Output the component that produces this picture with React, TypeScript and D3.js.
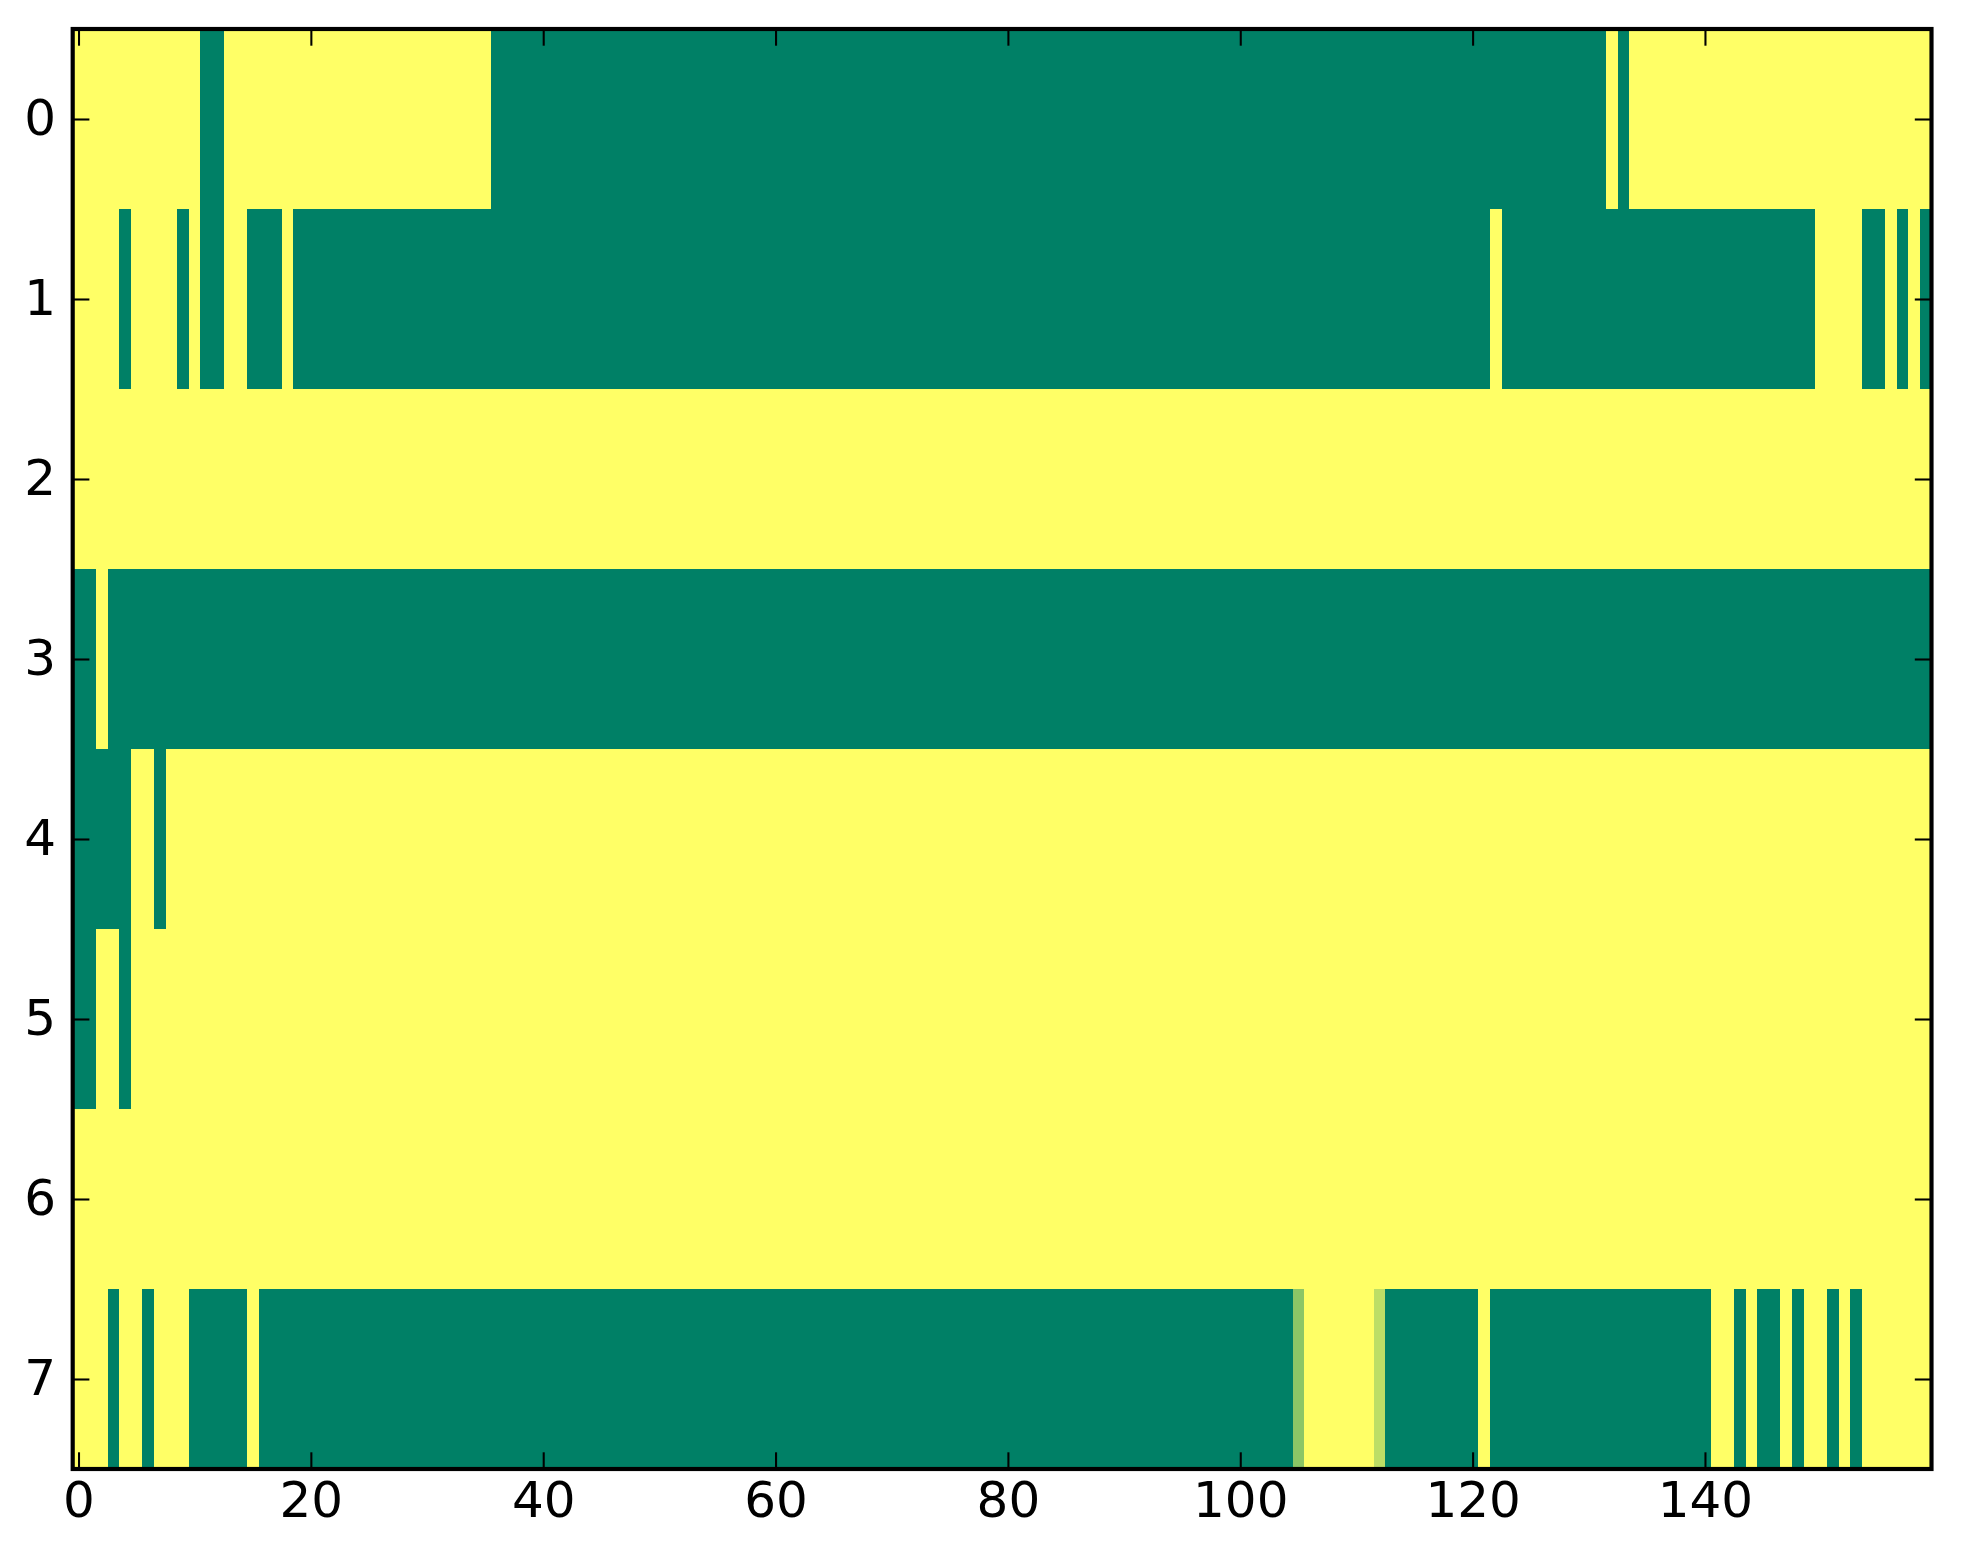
import { useEffect, useRef } from 'react';
import * as d3 from 'd3';

const WIDTH = 1963;
const HEIGHT = 1564;
const N_COLS = 160;

// Each row as runs of [value, number of columns], read left to right.
// 0 = dark green, 1 = yellow (summer colormap).
const row0: [number, number][] = [[1, 11], [0, 2], [1, 23], [0, 96], [1, 1], [0, 1], [1, 26]];
const row1: [number, number][] = [
  [1, 4], [0, 1], [1, 4], [0, 1], [1, 1], [0, 2], [1, 2], [0, 3], [1, 1], [0, 103],
  [1, 1], [0, 27], [1, 4], [0, 2], [1, 1], [0, 1], [1, 1], [0, 1],
];
const row2: [number, number][] = [[1, 160]];
const row3: [number, number][] = [[0, 2], [1, 1], [0, 157]];
const row4: [number, number][] = [[0, 5], [1, 2], [0, 1], [1, 152]];
const row5: [number, number][] = [[0, 2], [1, 2], [0, 1], [1, 155]];
const row6: [number, number][] = [[1, 160]];
const row7: [number, number][] = [
  [1, 3], [0, 1], [1, 2], [0, 1], [1, 3], [0, 5], [1, 1], [0, 89], [0.55, 1], [1, 6],
  [0.74, 1], [0, 8], [1, 1], [0, 19], [1, 2], [0, 1], [1, 1], [0, 2], [1, 1], [0, 1],
  [1, 2], [0, 1], [1, 1], [0, 1], [1, 6],
];

const rows = [row0, row1, row2, row3, row4, row5, row6, row7];
const xTicks = [0, 20, 40, 60, 80, 100, 120, 140];
const yTicks = [0, 1, 2, 3, 4, 5, 6, 7];

export default function App() {
  const svgRef = useRef<SVGSVGElement>(null);

  useEffect(() => {
    document.body.style.margin = '0';
    const svgEl = svgRef.current;
    if (!svgEl) return;

    const margin = { top: 29, right: WIDTH - 1931.5, bottom: HEIGHT - 1469, left: 72.7 };
    const innerW = WIDTH - margin.left - margin.right;
    const innerH = HEIGHT - margin.top - margin.bottom;
    const tickLen = 16.7;
    const font = 'DejaVu Sans, sans-serif';

    const svg = d3.select(svgEl);
    svg.selectAll('*').remove();

    const g = svg.append('g').attr('transform', `translate(${margin.left},${margin.top})`);

    const x = d3.scaleLinear().domain([-0.5, N_COLS - 0.5]).range([0, innerW]);
    const y = d3.scaleLinear().domain([-0.5, rows.length - 0.5]).range([0, innerH]);
    const color = d3
      .scaleLinear<string>()
      .domain([0, 1])
      .range(['#008066', '#ffff66'])
      .interpolate(d3.interpolateRgb);

    // expand runs into cells
    const cells = rows.flatMap((runs, r) => {
      let c = 0;
      return runs.flatMap(([v, n]) => d3.range(n).map(() => ({ r, c: c++, v })));
    });

    g.append('g')
      .selectAll('rect')
      .data(cells)
      .join('rect')
      .attr('x', (d) => x(d.c - 0.5))
      .attr('y', (d) => y(d.r - 0.5))
      .attr('width', x(1) - x(0) + 0.4)
      .attr('height', y(1) - y(0) + 0.4)
      .attr('fill', (d) => color(d.v))
      .attr('shape-rendering', 'crispEdges');

    const styleAxis = (sel: d3.Selection<SVGGElement, unknown, null, undefined>) => {
      sel.select('.domain').remove();
      sel.attr('font-family', font).attr('font-size', 50);
      sel.selectAll('.tick line').attr('stroke', '#000').attr('stroke-width', 2.08);
      sel.selectAll('.tick text').attr('fill', '#000');
    };

    // bottom
    g.append('g')
      .attr('transform', `translate(0,${innerH})`)
      .call(d3.axisBottom(x).tickValues(xTicks).tickSize(-tickLen))
      .call(styleAxis)
      .call((sel) => sel.selectAll('.tick text').attr('y', 48).attr('dy', null));

    // top
    g.append('g')
      .call(d3.axisTop(x).tickValues(xTicks).tickSize(-tickLen).tickFormat(() => ''))
      .call(styleAxis);

    // left
    g.append('g')
      .call(d3.axisLeft(y).tickValues(yTicks).tickSize(-tickLen).tickPadding(16.7))
      .call(styleAxis)
      .call((sel) => sel.selectAll('.tick text').attr('dy', '0.3em'));

    // right
    g.append('g')
      .attr('transform', `translate(${innerW},0)`)
      .call(d3.axisRight(y).tickValues(yTicks).tickSize(-tickLen).tickFormat(() => ''))
      .call(styleAxis);

    // spines
    g.append('rect')
      .attr('width', innerW)
      .attr('height', innerH)
      .attr('fill', 'none')
      .attr('stroke', '#000')
      .attr('stroke-width', 4.17);
  }, []);

  return (
    <svg
      ref={svgRef}
      width={WIDTH}
      height={HEIGHT}
      viewBox={`0 0 ${WIDTH} ${HEIGHT}`}
      style={{ display: 'block', background: '#fff' }}
    />
  );
}
